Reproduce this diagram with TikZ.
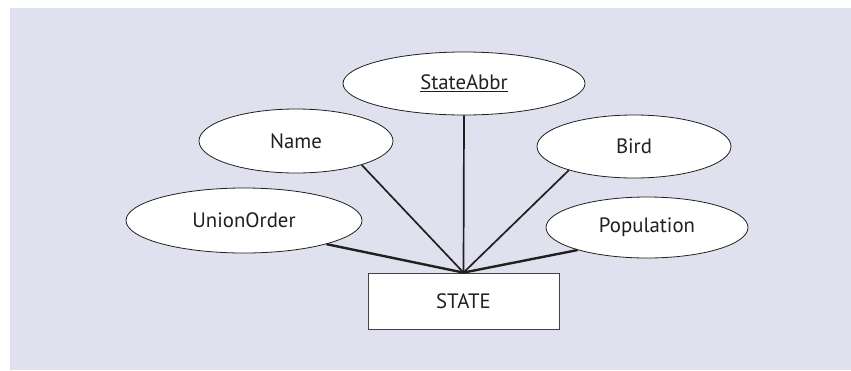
\documentclass[tikz,border=0pt]{standalone}
\usepackage{fontspec}
\setmainfont{PT Sans}
\usetikzlibrary{shapes.geometric}
\definecolor{panel}{HTML}{DFE1EF}
\definecolor{ink}{HTML}{231F20}
\begin{document}
\begin{tikzpicture}[x=1pt,y=-1pt,
  attr/.style={ellipse, draw=ink, fill=white, line width=0.8pt, inner sep=0pt,
    font=\fontsize{20.8}{24}\selectfont, text=ink},
  entity/.style={rectangle, draw=ink!85, fill=white, line width=0.8pt, inner sep=0pt,
    font=\fontsize{20.8}{24}\selectfont, text=ink},
  link/.style={draw=ink, line width=1.7pt},
  boldlink/.style={draw=ink, line width=2.4pt}]
\useasboundingbox (0,0) rectangle (851,370);
\fill[panel] (10,8) rectangle (851,370);
\node[entity, minimum width=191pt, minimum height=56pt] (state) at (463.5,301) {STATE};
\node[attr, minimum width=242pt, minimum height=63pt] (abbr) at (464,83.5) {\underline{StateAbbr}};
\node[attr, minimum width=194pt, minimum height=64pt] (name) at (296,141) {Name};
\node[attr, minimum width=194pt, minimum height=63pt] (bird) at (634,146.5) {Bird};
\node[attr, minimum width=236pt, minimum height=65pt] (union) at (244,220.5) {UnionOrder};
\node[attr, minimum width=202pt, minimum height=61pt] (pop) at (647,227.5) {Population};
\draw[link] (abbr.south) -- (state.north);
\draw[link] (name.-20) -- (state.north);
\draw[link] (bird.-160) -- (state.north);
\draw[boldlink] (union.-16) -- (state.north);
\draw[boldlink] (pop.-162) -- (state.north);
\end{tikzpicture}
\end{document}
